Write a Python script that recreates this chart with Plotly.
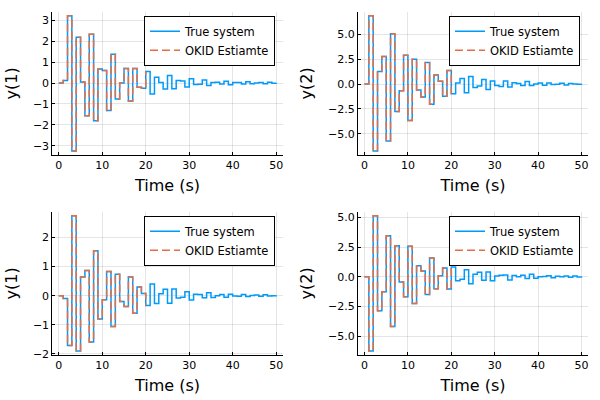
import plotly.graph_objects as go

# ---------------- data ----------------
time_true = list(range(0, 51))
time_okid = list(range(0, 21))

# Output y(1), input 1 (top-left)
y11_true = [0.0, 0.12, 3.22, -3.25, 2.19, 0.05, -1.57, 2.33, -1.80, 0.67,
            0.60, -1.32, 1.38, -0.76, 0.0, 0.69, -0.86, 0.70, -0.20, -0.25,
            0.55, -0.52, 0.28, 0.02, -0.28, 0.36, -0.27, 0.12, 0.10, -0.19,
            0.20, -0.07, -0.06, 0.14, -0.12, 0.03, 0.04, -0.05, 0.08, -0.08,
            0.03, 0.02, -0.05, 0.06, -0.04, 0.0, 0.03, -0.04, 0.04, -0.01, 0.0]
y11_okid = [0.0, 0.12, 3.22, -3.25, 2.19, 0.05, -1.57, 2.33, -1.80, 0.67,
            0.60, -1.32, 1.38, -0.76, 0.0, 0.69, -0.86, 0.70, -0.20, -0.25, 0.55]

# Output y(2), input 1 (top-right)
y21_true = [0.0, 6.87, -6.73, 1.27, 2.77, -5.73, 5.07, -2.77, -0.67, 2.90,
            -3.67, 2.50, -0.60, -1.30, 2.17, -2.03, 0.90, 0.27, -1.23, 1.37,
            -0.97, 0.10, 0.55, -0.88, 0.75, -0.35, -0.20, 0.45, -0.55, 0.30,
            -0.15, -0.25, 0.30, -0.30, 0.12, 0.05, -0.15, 0.25, -0.15, 0.0,
            0.10, -0.12, 0.10, -0.05, -0.03, 0.08, -0.10, 0.05, 0.0, -0.03, 0.0]
y21_okid = [0.0, 6.87, -6.73, 1.27, 2.77, -5.73, 5.07, -2.77, -0.67, 2.90,
            -3.67, 2.50, -0.60, -1.30, 2.17, -2.03, 0.90, 0.27, -1.23, 1.37, -0.97]

# Output y(1), input 2 (bottom-left)
y12_true = [0.0, -0.10, -1.71, 2.75, -1.90, 0.64, 0.87, -1.59, 1.55, -0.80,
            -0.14, 0.83, -1.06, 0.74, -0.20, -0.37, 0.64, -0.60, 0.30, 0.08,
            -0.34, 0.40, -0.27, 0.07, 0.22, -0.26, 0.23, -0.08, -0.05, 0.14,
            -0.15, 0.05, 0.04, -0.07, 0.10, -0.06, 0.0, 0.04, -0.05, 0.05,
            -0.01, -0.02, 0.04, -0.03, 0.01, 0.02, -0.02, 0.03, -0.01, 0.0, 0.01]
y12_okid = [0.0, -0.10, -1.71, 2.75, -1.90, 0.64, 0.87, -1.59, 1.55, -0.80,
            -0.14, 0.83, -1.06, 0.74, -0.20, -0.37, 0.64, -0.60, 0.30, 0.08, -0.34]

# Output y(2), input 2 (bottom-right)
y22_true = [0.0, -6.26, 5.14, -2.87, -1.26, 3.46, -4.19, 2.61, -0.45, -1.69,
            2.56, -2.25, 0.93, 0.48, -1.49, 1.57, -1.01, 0.08, 0.73, -1.04,
            0.81, -0.35, -0.22, 0.58, -0.60, 0.20, 0.38, -0.30, 0.40, -0.35,
            0.05, 0.12, 0.15, -0.28, 0.10, 0.0, 0.12, -0.15, 0.20, -0.12,
            0.0, 0.02, 0.08, -0.08, 0.04, -0.01, 0.05, -0.05, 0.05, -0.02, 0.01]
y22_okid = [0.0, -6.26, 5.14, -2.87, -1.26, 3.46, -4.19, 2.61, -0.45, -1.69,
            2.56, -2.25, 0.93, 0.48, -1.49, 1.57, -1.01, 0.08, 0.73, -1.04, 0.81]

x_ticks = [0, 10, 20, 30, 40, 50]
y_ticks = [
    [-3, -2, -1, 0, 1, 2, 3],
    [-5.0, -2.5, 0.0, 2.5, 5.0],
    [-2, -1, 0, 1, 2],
    [-5.0, -2.5, 0.0, 2.5, 5.0],
]
y_titles = ["y(1)", "y(2)", "y(1)", "y(2)"]
series_true = [y11_true, y21_true, y12_true, y22_true]
series_okid = [y11_okid, y21_okid, y12_okid, y22_okid]
tick_formats = ["d", ".1f", "d", ".1f"]

# ---------------- style / layout ----------------
BLUE = "#009AFA"
ORANGE = "#E36F47"
W, H = 600, 400
FONT = "DejaVu Sans"

# pixel boxes of the four plot areas (left, right, top, bottom)
boxes = [
    (52.3, 282.7, 11.7, 155.0),
    (358.0, 588.0, 11.7, 155.0),
    (52.3, 282.7, 211.7, 355.0),
    (358.0, 588.0, 211.7, 355.0),
]
legend_pos = [(275, 15.7), (580, 15.7), (275, 215.7), (580, 215.7)]

fig = go.Figure()
layout = dict(
    width=W, height=H,
    margin=dict(l=0, r=0, t=0, b=0),
    paper_bgcolor="white", plot_bgcolor="white",
    font=dict(family=FONT, color="black"),
)

for i in range(4):
    n = "" if i == 0 else str(i + 1)
    leg = "legend" if i == 0 else f"legend{i + 1}"
    fig.add_trace(go.Scatter(
        x=time_true, y=series_true[i], mode="lines", line_shape="hv",
        line=dict(color=BLUE, width=1.5), name="True system",
        xaxis=f"x{n}", yaxis=f"y{n}", legend=leg,
    ))
    fig.add_trace(go.Scatter(
        x=time_okid, y=series_okid[i], mode="lines", line_shape="hv",
        line=dict(color=ORANGE, width=1.5, dash="8px,4px"), name="OKID Estiamte",
        xaxis=f"x{n}", yaxis=f"y{n}", legend=leg,
    ))
    l, r, t, b = boxes[i]
    ymin = min(series_true[i] + series_okid[i])
    ymax = max(series_true[i] + series_okid[i])
    pad = 0.03 * (ymax - ymin)
    common = dict(
        showline=True, linecolor="black", linewidth=1, mirror=False,
        ticks="inside", ticklen=3, tickcolor="black", tickwidth=1,
        showgrid=True, gridcolor="rgba(0,0,0,0.1)", gridwidth=1,
        zeroline=False, tickfont=dict(size=11, family=FONT, color="black"),
        automargin=False,
    )
    layout[f"xaxis{n}"] = dict(
        common, domain=[l / W, r / W], anchor=f"y{n}",
        range=[-1.5, 51.5], tickvals=x_ticks,
        title=dict(text="Time (s)", font=dict(size=16), standoff=8),
    )
    layout[f"yaxis{n}"] = dict(
        common, domain=[1 - b / H, 1 - t / H], anchor=f"x{n}",
        range=[ymin - pad, ymax + pad], tickvals=y_ticks[i],
        tickformat=tick_formats[i],
        title=dict(text=y_titles[i], font=dict(size=16), standoff=11),
    )
    lx, ly = legend_pos[i]
    layout[leg] = dict(
        x=lx / W, y=1 - ly / H, xanchor="right", yanchor="top",
        xref="paper", yref="paper",
        bgcolor="white", bordercolor="black", borderwidth=1,
        font=dict(size=11.5, family=FONT, color="black"),
        itemwidth=30, tracegroupgap=0,
    )

fig.update_layout(**layout)
fig.write_html(
    "out.html",
    config={"displayModeBar": False},
    post_script="document.body.style.margin='0';document.body.style.overflow='hidden';",
)
